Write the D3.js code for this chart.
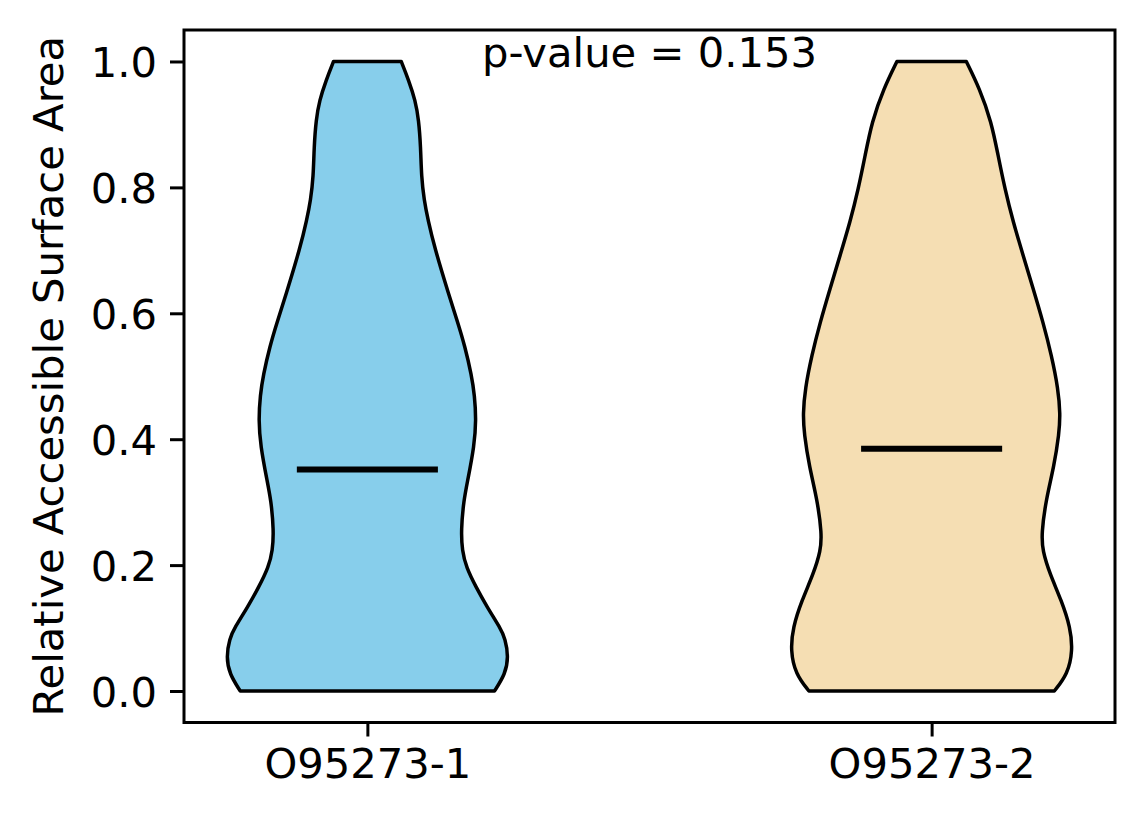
<!DOCTYPE html>
<html>
<head>
<meta charset="utf-8">
<script src="https://cdn.jsdelivr.net/npm/d3@7"></script>
<style>
  html, body { margin: 0; padding: 0; background: #fff; }
  svg { display: block; }
  text { font-family: "DejaVu Sans", sans-serif; }
</style>
</head>
<body>
<svg id="chart" width="1144" height="824"></svg>
<script>
// ---- Data ----
const categories = ["O95273-1", "O95273-2"];
const colors = ["#87CEEB", "#F5DEB3"];
const medians = [0.352, 0.385];
const pValueText = "p-value = 0.153";
const yLabel = "Relative Accessible Surface Area";
const yTicks = [0.0, 0.2, 0.4, 0.6, 0.8, 1.0];

// Density profile (value along y, relative half-width 0..1)
const violin1Values  = [0.000, 0.027, 0.054, 0.083, 0.101, 0.133, 0.165, 0.197, 0.223, 0.255, 0.303, 0.334, 0.390, 0.430, 0.470, 0.502, 0.547, 0.586, 0.626, 0.706, 0.748, 0.780, 0.817, 0.864, 0.907, 0.938, 0.970, 1.000];
const violin1Density = [0.901, 0.978, 1.000, 0.978, 0.940, 0.850, 0.770, 0.700, 0.672, 0.664, 0.683, 0.711, 0.758, 0.771, 0.760, 0.738, 0.692, 0.640, 0.582, 0.474, 0.430, 0.402, 0.383, 0.378, 0.364, 0.340, 0.293, 0.240];
const violin2Values  = [0.000, 0.027, 0.064, 0.101, 0.144, 0.186, 0.223, 0.250, 0.303, 0.356, 0.409, 0.440, 0.480, 0.533, 0.586, 0.639, 0.692, 0.745, 0.798, 0.851, 0.904, 0.957, 1.000];
const violin2Density = [0.870, 0.965, 1.000, 0.984, 0.920, 0.838, 0.786, 0.779, 0.810, 0.867, 0.904, 0.912, 0.897, 0.850, 0.790, 0.720, 0.649, 0.578, 0.519, 0.471, 0.424, 0.340, 0.246];

const profiles = [
  violin1Values.map((v, i) => ({ v, d: violin1Density[i] })),
  violin2Values.map((v, i) => ({ v, d: violin2Density[i] }))
];

// ---- Layout ----
const svg = d3.select("#chart");
const mLeft = 184, mRight = 1115, mTop = 30, mBottom = 722.5;
const fontSize = 41.7;
const maxHalfWidth = 0.25;

const x = d3.scaleLinear().domain([0.675, 2.325]).range([mLeft, mRight]);
const y = d3.scaleLinear().domain([-0.05, 1.05]).range([mBottom, mTop]);

// Violins
const g = svg.append("g");
profiles.forEach((prof, i) => {
  const pos = i + 1;
  const area = d3.area()
    .curve(d3.curveBasis)
    .y(d => y(d.v))
    .x0(d => x(pos - d.d * maxHalfWidth))
    .x1(d => x(pos + d.d * maxHalfWidth));
  g.append("path")
    .datum(prof)
    .attr("d", area)
    .attr("fill", colors[i])
    .attr("stroke", "#000")
    .attr("stroke-width", 3.5)
    .attr("stroke-linejoin", "round");
  g.append("line")
    .attr("x1", x(pos - 0.125)).attr("x2", x(pos + 0.125))
    .attr("y1", y(medians[i])).attr("y2", y(medians[i]))
    .attr("stroke", "#000").attr("stroke-width", 6);
});

// Axes
const yAxis = d3.axisLeft(y).tickValues(yTicks).tickFormat(d3.format(".1f")).tickSize(14).tickPadding(13);
const xAxis = d3.axisBottom(x).tickValues([1, 2]).tickFormat(d => categories[d - 1]).tickSize(14).tickPadding(12);

const ya = svg.append("g").attr("transform", `translate(${mLeft},0)`).call(yAxis);
const xa = svg.append("g").attr("transform", `translate(0,${mBottom})`).call(xAxis);
[ya, xa].forEach(a => {
  a.select(".domain").remove();
  a.selectAll(".tick line").attr("stroke", "#000").attr("stroke-width", 3);
  a.selectAll(".tick text").attr("fill", "#000").style("font-size", fontSize + "px").style("font-family", "DejaVu Sans");
});
ya.selectAll(".tick text").attr("dy", "0.36em");

// Frame
svg.append("rect")
  .attr("x", mLeft).attr("y", mTop)
  .attr("width", mRight - mLeft).attr("height", mBottom - mTop)
  .attr("fill", "none").attr("stroke", "#000").attr("stroke-width", 3);

// p-value text
svg.append("text")
  .attr("x", (mLeft + mRight) / 2).attr("y", 67)
  .attr("text-anchor", "middle")
  .style("font-size", fontSize + "px")
  .text(pValueText);

// Y label
svg.append("text")
  .attr("transform", `translate(63,${(mTop + mBottom) / 2}) rotate(-90)`)
  .attr("text-anchor", "middle")
  .style("font-size", fontSize + "px")
  .text(yLabel);
</script>
</body>
</html>
